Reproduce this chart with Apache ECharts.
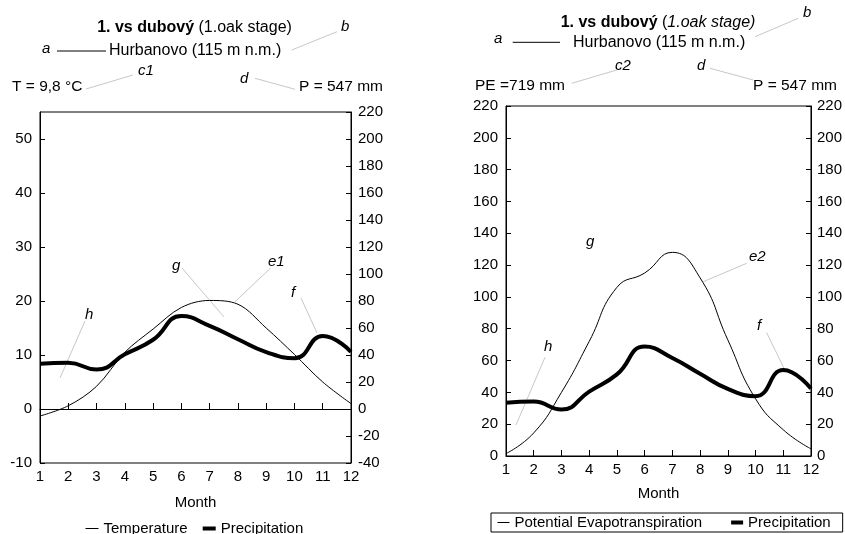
<!DOCTYPE html>
<html>
<head>
<meta charset="utf-8">
<script src="https://cdn.jsdelivr.net/npm/echarts@6/dist/echarts.min.js"></script>
<style>
html,body{margin:0;padding:0;background:#fff;}
#c{width:845px;height:534px;}
</style>
</head>
<body>
<div id="c"></div>
<script>
// ---- data ----
var months = ['1','2','3','4','5','6','7','8','9','10','11','12'];
var temperature = [-1.3, 0.6, 4.2, 10.5, 14.8, 18.8, 20.1, 19.4, 15.0, 10.1, 5.0, 1.0];
var precipitation = [33.5, 34.2, 29.2, 40.5, 51.3, 68.8, 61.6, 51.7, 42.2, 37.6, 54.0, 42.4];
var pet = [1.5, 14.5, 40, 72, 106, 115, 128, 112, 73, 36, 16.5, 4.5];
var tempTicks = {min: -10, max: 55, interval: 10};
var precTicksLeft = {min: -40, max: 220, interval: 20};
var precTicksRight = {min: 0, max: 220, interval: 20};

var FF = '"Liberation Sans", Arial, sans-serif';
var chart = echarts.init(document.getElementById('c'));

function txt(t, x, y, opts) {
  opts = opts || {};
  return {
    type: 'text', silent: true,
    style: {
      text: t, x: x, y: y,
      fill: '#000',
      font: (opts.italic ? 'italic ' : '') + (opts.bold ? 'bold ' : '') + (opts.size || 15) + 'px ' + FF,
      textAlign: opts.align || 'left', align: opts.align || 'left',
      textVerticalAlign: 'middle', verticalAlign: 'middle',
      rich: opts.rich
    }
  };
}
function ln(x1, y1, x2, y2, color) {
  return {
    type: 'line', silent: true,
    shape: {x1: x1, y1: y1, x2: x2, y2: y2},
    style: {stroke: color || '#c8c8c8', lineWidth: 1}
  };
}

var axisLineStyle = {show: true, lineStyle: {color: '#000', width: 1}};
var labelStyle = {color: '#000', fontSize: 15, fontFamily: FF};

function yAxis(grid, pos, t, margin) {
  return {
    type: 'value', gridIndex: grid, position: pos,
    min: t.min, max: t.max, interval: t.interval,
    axisLine: axisLineStyle,
    axisTick: {show: true, inside: true, length: 5, lineStyle: {color: '#000'}},
    splitLine: {show: false},
    axisLabel: Object.assign({margin: margin, showMaxLabel: t.max % t.interval === 0,
      formatter: function (v) { return (v - t.min) % t.interval === 0 ? String(v) : ''; }}, labelStyle)
  };
}
function xAxis(grid, gap) {
  return {
    type: 'category', gridIndex: grid, data: months, boundaryGap: false,
    axisLine: axisLineStyle,
    axisTick: {show: true, inside: true, length: 6, lineStyle: {color: '#000'}},
    axisLabel: Object.assign({margin: 6, interval: 0}, labelStyle),
    splitLine: {show: false},
    name: 'Month', nameLocation: 'middle', nameGap: gap,
    nameTextStyle: {color: '#000', fontSize: 15, fontFamily: FF}
  };
}

var option = {
  animation: false,
  backgroundColor: '#fff',
  grid: [
    {left: 40, top: 112, width: 311, height: 351, show: true, borderColor: '#000', borderWidth: 1},
    {left: 506, top: 106, width: 307, height: 350, show: true, borderColor: '#000', borderWidth: 1}
  ],
  xAxis: [xAxis(0, 32), xAxis(1, 30)],
  yAxis: [
    yAxis(0, 'left', tempTicks, 8),
    yAxis(0, 'right', precTicksLeft, 7),
    yAxis(1, 'left', precTicksRight, 8),
    yAxis(1, 'right', precTicksRight, 6)
  ],
  legend: [
    {
      left: 85, top: 521, itemWidth: 13, itemHeight: 10, itemGap: 13,
      data: [
        {name: 'Temperature', lineStyle: {width: 1, color: '#000'}},
        {name: 'Precipitation', lineStyle: {width: 4, color: '#000'}}
      ],
      itemStyle: {opacity: 0},
      textStyle: {color: '#000', fontSize: 15, fontFamily: FF},
      padding: 0
    },
    {
      left: 491, top: 513, itemWidth: 12, itemHeight: 10, itemGap: 27,
      data: [
        {name: 'Potential Evapotranspiration', lineStyle: {width: 1, color: '#000'}},
        {name: 'Precipitation', lineStyle: {width: 4, color: '#000'}}
      ],
      itemStyle: {opacity: 0},
      borderColor: '#000', borderWidth: 1, padding: [2, 12, 2, 6],
      textStyle: {color: '#000', fontSize: 15, fontFamily: FF}
    }
  ],
  series: [
    {
      name: 'Temperature', type: 'line', xAxisIndex: 0, yAxisIndex: 0,
      data: temperature, smooth: 0.35, symbol: 'none',
      lineStyle: {color: '#000', width: 1}, itemStyle: {color: '#000'},
      markLine: {
        silent: true, symbol: ['none', 'none'], label: {show: false},
        lineStyle: {color: '#000', type: 'solid', width: 1},
        data: [{yAxis: 0}]
      }
    },
    {
      name: 'Precipitation', type: 'line', xAxisIndex: 0, yAxisIndex: 1,
      data: precipitation, smooth: 0.5, symbol: 'none',
      lineStyle: {color: '#000', width: 4}, itemStyle: {color: '#000'}
    },
    {
      name: 'Potential Evapotranspiration', type: 'line', xAxisIndex: 1, yAxisIndex: 2,
      data: pet, smooth: 0.5, symbol: 'none',
      lineStyle: {color: '#000', width: 1}, itemStyle: {color: '#000'}
    },
    {
      name: 'Precipitation', type: 'line', xAxisIndex: 1, yAxisIndex: 2,
      data: precipitation, smooth: 0.5, symbol: 'none',
      lineStyle: {color: '#000', width: 4}, itemStyle: {color: '#000'}
    }
  ],
  graphic: [
    // left header
    txt('{b|1. vs dubový} (1.oak stage)', 194.5, 28, {size: 16, align: 'center',
      rich: {b: {fontWeight: 'bold', fontSize: 16, fontFamily: FF}}}),
    txt('a', 42, 49, {italic: true}),
    ln(57, 51, 106, 51, '#000'),
    txt('Hurbanovo (115 m n.m.)', 109, 51, {size: 16}),
    txt('b', 341, 27, {italic: true}),
    ln(337, 31.7, 291.7, 50),
    txt('T = 9,8 °C', 12, 87, {size: 15.5}),
    ln(86, 89, 133, 75),
    txt('c1', 138, 71, {italic: true}),
    txt('d', 240, 78.5, {italic: true}),
    ln(255, 78.3, 295, 89.3),
    txt('P = 547 mm', 299, 87, {size: 15.5}),
    // left plot letters
    txt('g', 172, 266, {italic: true}),
    ln(182, 268, 224, 317),
    txt('e1', 268, 262, {italic: true}),
    ln(270.7, 268, 235, 301.7),
    txt('f', 291, 293, {italic: true}),
    ln(301, 298, 317, 333),
    txt('h', 85, 315, {italic: true}),
    ln(85, 321, 60, 378),
    // right header
    txt('{b|1. vs dubový} ({i|1.oak stage)}', 658, 23, {size: 16, align: 'center',
      rich: {b: {fontWeight: 'bold', fontSize: 16, fontFamily: FF},
             i: {fontStyle: 'italic', fontSize: 16, fontFamily: FF}}}),
    txt('b', 803, 13, {italic: true}),
    ln(798.3, 18.3, 755, 36.7),
    txt('a', 494, 39, {italic: true}),
    ln(512.7, 42.3, 560, 42.3, '#000'),
    txt('Hurbanovo (115 m n.m.)', 573, 42.5, {size: 16}),
    txt('c2', 615, 66, {italic: true}),
    ln(571.7, 83.3, 616.7, 70),
    txt('d', 697, 66, {italic: true}),
    ln(710, 68.3, 753.3, 80),
    txt('PE =719 mm', 475, 86, {size: 15.5}),
    txt('P = 547 mm', 753, 86, {size: 15.5}),
    // right plot letters
    txt('g', 586, 242, {italic: true}),
    txt('e2', 749, 257, {italic: true}),
    ln(746.7, 263.3, 703.3, 281.7),
    txt('f', 757, 326, {italic: true}),
    ln(766.7, 332.7, 784, 368.3),
    txt('h', 544, 347, {italic: true}),
    ln(545, 357.3, 516, 425)
  ]
};
chart.setOption(option);
</script>
</body>
</html>
